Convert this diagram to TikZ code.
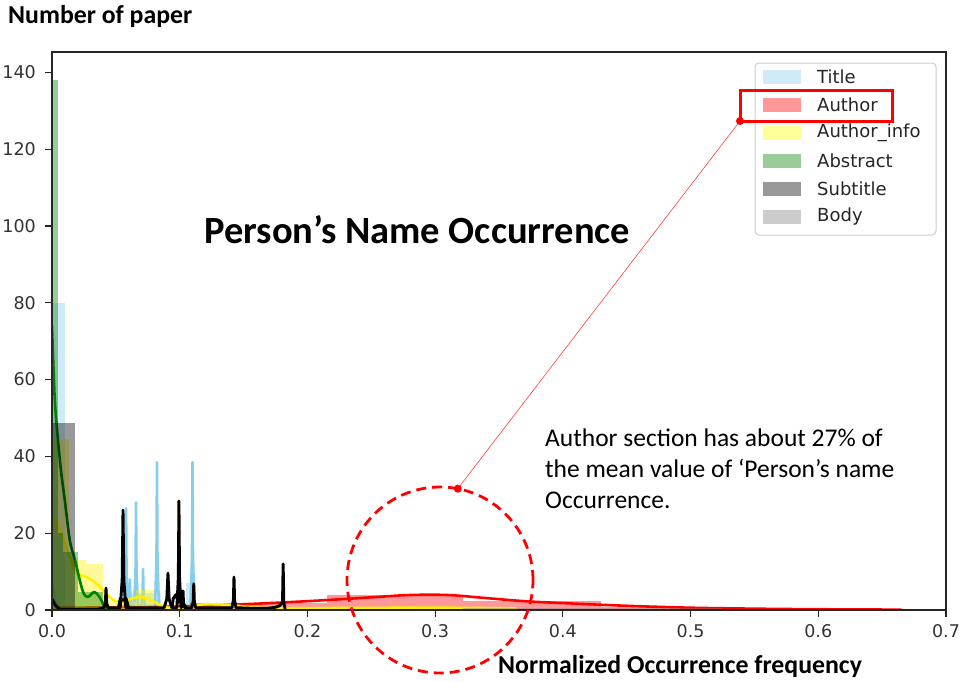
\documentclass[tikz,border=0pt]{standalone}
\usepackage{fontspec}
\setmainfont{Carlito}
\newfontfamily\dejavu{DejaVu Sans}
\definecolor{skyb}{RGB}{135,206,235}
\definecolor{mplgreen}{RGB}{0,128,0}
\definecolor{mplgray}{RGB}{128,128,128}
\definecolor{legbord}{RGB}{204,204,204}
\definecolor{pSky}{RGB}{207,235,247}
\definecolor{pRed}{RGB}{255,153,153}
\definecolor{pYel}{RGB}{255,255,153}
\definecolor{pGrn}{RGB}{153,204,153}
\definecolor{pDark}{RGB}{153,153,153}
\definecolor{pLight}{RGB}{204,204,204}
\begin{document}
\begin{tikzpicture}[x=1pt,y=-1pt,
  spine/.style={draw=black!85, line width=1.4},
  tickmark/.style={draw=black!85, line width=1.2},
  ticklab/.style={font=\dejavu\fontsize{17.5}{20}\selectfont, text=black!80, inner sep=0},
  leglab/.style={font=\dejavu\fontsize{18}{20}\selectfont, text=black!85, anchor=west, inner sep=0},
  legpatch/.style={minimum width=38, minimum height=14, inner sep=0, draw=none},
  kde/.style={line width=2.6, line join=round, line cap=round},
  bigtitle/.style={font=\bfseries\fontsize{38.5}{44}\selectfont, anchor=base west, inner sep=0},
  axtitle/.style={font=\bfseries\fontsize{25.8}{30}\selectfont, anchor=base west, inner sep=0},
  note/.style={font=\fontsize{25.5}{31}\selectfont, anchor=base west, inner sep=0}]
\useasboundingbox (0,0) rectangle (961,681);
\fill[white] (0,0) rectangle (961,681);

% ---------------- data ----------------
\begin{scope}[shift={(52,610)}, x=1277.1pt, y=3.84pt]
\clip (0,0) rectangle (0.7,145.3);
% Title
\fill[skyb, opacity=.4] (0,0) rectangle (0.0102,80);
\fill[skyb, opacity=.4] (0.055,0) rectangle (0.085,4.5);
\fill[skyb, opacity=.4] (0.105,0) rectangle (0.112,7);
\draw[kde, skyb] (0,7) .. controls (0.002,2) and (0.004,0.5) .. (0.009,0.3) -- (0.054,0.5)
  \foreach \sx/\sh in {0.058/26.5, 0.061/8, 0.0658/28, 0.0713/10.7, 0.0822/38.5, 0.110/38.5}
  { -- ({\sx-0.0015},1) -- ({\sx-0.0004},{0.35*\sh}) -- (\sx,\sh) -- ({\sx+0.0004},{0.35*\sh}) -- ({\sx+0.0015},1) }
  -- (0.116,0.4);
% Author
\fill[red, opacity=.4] (0.108,0) rectangle (0.215,1.8);
\fill[red, opacity=.4] (0.215,0) rectangle (0.322,3.9);
\fill[red, opacity=.4] (0.322,0) rectangle (0.43,2.4);
\fill[red, opacity=.4] (0.43,0) rectangle (0.537,0.8);
\fill[red, opacity=.4] (0.537,0) rectangle (0.644,0.3);
\draw[kde, red] plot[smooth, tension=0.6] coordinates {(0.005,0.6) (0.05,0.7) (0.1,0.9) (0.15,1.5) (0.2,2.3) (0.25,3.3) (0.28,3.9) (0.31,3.9) (0.34,3.1) (0.37,2.3) (0.4,1.8) (0.45,1.1) (0.5,0.6) (0.55,0.35) (0.6,0.2) (0.665,0.1)};
% Author_info
\fill[yellow, opacity=.4] (0,0) rectangle (0.0133,44.5);
\fill[yellow, opacity=.4] (0.0133,0) rectangle (0.0266,13);
\fill[yellow, opacity=.4] (0.0266,0) rectangle (0.04,12);
\fill[yellow, opacity=.4] (0.04,0) rectangle (0.066,2);
\fill[yellow, opacity=.4] (0.066,0) rectangle (0.08,5.2);
\fill[yellow, opacity=.4] (0.08,0) rectangle (0.093,1);
\fill[yellow, opacity=.4] (0.12,0) rectangle (0.133,1.8);
\draw[kde, yellow] plot[smooth, tension=0.6] coordinates {(0,24) (0.006,20.8) (0.014,13.8) (0.0196,9.6) (0.027,8.6) (0.036,6.5) (0.045,3.4) (0.052,2.1) (0.059,2.6) (0.069,3.4) (0.078,2.5) (0.088,0.8) (0.1,0.5) (0.11,0.8) (0.12,1.5) (0.14,1.3) (0.16,0.6) (0.2,0.5) (0.3,0.6) (0.363,0.4)};
% Abstract
\fill[mplgreen, opacity=.4] (0,0) rectangle (0.0045,138);
\fill[mplgreen, opacity=.4] (0.0045,0) rectangle (0.009,20);
\fill[mplgreen, opacity=.4] (0.009,0) rectangle (0.0205,15);
\fill[mplgreen, opacity=.4] (0.0205,0) rectangle (0.04,4.7);
\draw[kde, mplgreen] plot[smooth, tension=0.5] coordinates {(0,74) (0.002,56) (0.0037,48) (0.0068,37) (0.01,28.6) (0.014,18) (0.018,13) (0.024,5) (0.028,3.4) (0.033,4.7) (0.037,3.5) (0.041,1) (0.045,0.1)};
% Subtitle
\fill[black, opacity=.4] (0,0) rectangle (0.018,48.7);
\draw[kde, black, line width=2.9] (0,2.8) .. controls (0.002,1.5) and (0.004,0.4) .. (0.007,0.1) -- (0.036,0.2)
  \foreach \sx/\sh/\sw in {0.0423/5.7/0.0018, 0.0556/26/0.0022, 0.0908/9.6/0.003, 0.0994/28.4/0.0016, 0.1026/5/0.0014, 0.111/6.8/0.0016, 0.1425/8.6/0.0016}
  { -- ({\sx-\sw},0.6) -- ({\sx-0.3*\sw},{0.3*\sh}) -- (\sx,\sh) -- ({\sx+0.3*\sw},{0.3*\sh}) -- ({\sx+\sw},0.6) }
  -- (0.16,0.4) .. controls (0.172,0.4) and (0.179,0.6) .. (0.1805,2) -- (0.181,12) -- (0.1815,2) -- (0.1825,0.3);
\draw[kde, black, line width=2.9] (0.052,0.6) -- (0.0535,3) -- (0.056,2.5) -- (0.058,3) -- (0.06,0.6);
\draw[kde, black, line width=2.9] (0.094,0.8) -- (0.095,3) -- (0.097,4) -- (0.099,2) -- (0.1005,4.2) -- (0.102,2) -- (0.105,0.8);
% Body
\fill[mplgray, opacity=.4] (0.322,0) rectangle (0.525,0.6);
\end{scope}

% ---------------- axes ----------------
\draw[spine] (52,52) rectangle (946,610);
\foreach \k in {0,...,7} {
  \pgfmathsetmacro{\yy}{610-76.8*\k}
  \pgfmathtruncatemacro{\lab}{20*\k}
  \draw[tickmark] (45,\yy) -- (52,\yy);
  \node[ticklab, anchor=east] (yl\k) at (36,\yy) {\lab};
}
\foreach \k/\t in {0/0.0,1/0.1,2/0.2,3/0.3,4/0.4,5/0.5,6/0.6,7/0.7} {
  \pgfmathsetmacro{\xx}{52+127.71*\k}
  \draw[tickmark] (\xx,610) -- (\xx,617);
  \node[ticklab] (xl\k) at (\xx,631.5) {\t};
}

% ---------------- legend ----------------
\node[draw=legbord, fill=white, fill opacity=.8, rounded corners=4, line width=1, minimum width=181, minimum height=172, inner sep=0] (legend) at (845.5,149) {};
\foreach \c/\t [count=\i from 0] in {pSky/Title, pRed/Author, pYel/Author\_info, pGrn/Abstract, pDark/Subtitle, pLight/Body} {
  \pgfmathsetmacro{\ry}{77+28*\i}
  \node[legpatch, fill=\c] (lp\i) at (782,\ry) {};
  \node[leglab] (lt\i) at (817,\ry) {\t};
}

% ---------------- texts ----------------
\node[axtitle] (ytitle) at (8,23) {Number of paper};
\node[bigtitle] (title) at (204,243) {Person’s Name Occurrence};
\node[axtitle] (xtitle) at (498,673) {Normalized Occurrence frequency};
\node[note] (n1) at (545,446) {Author section has about 27\% of};
\node[note] (n2) at (545,477) {the mean value of ‘Person’s name};
\node[note] (n3) at (545,508) {Occurrence.};

% ---------------- annotation ----------------
\node[draw=red, line width=3, inner sep=0, outer sep=0, minimum width=152, minimum height=31] (abox) at (816,105.5) {};
\node[circle, draw=red, line width=2.8, dash pattern=on 10 off 6, inner sep=0, outer sep=0, minimum size=186] (circ) at (440,580) {};
\draw[red!75, line width=0.6] (circ.79) -- (abox.south west);
\fill[red] (circ.79) circle (4);
\fill[red] (abox.south west) circle (4);
\end{tikzpicture}
\end{document}
